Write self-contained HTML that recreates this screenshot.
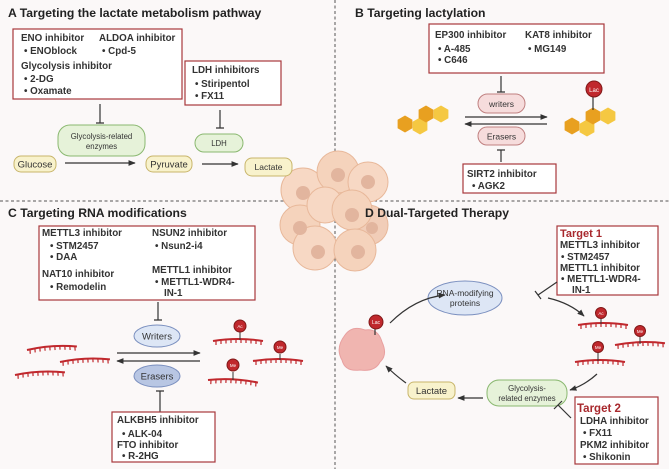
<!DOCTYPE html>
<html><head><meta charset="utf-8"><style>
html,body{margin:0;padding:0;background:#fbf8f8;}
svg{display:block;font-family:"Liberation Sans",Arial,sans-serif;}
.t{font-weight:bold;font-size:12.2px;fill:#222;}
.b{font-weight:bold;font-size:9.8px;fill:#333;}
.s{font-size:7.8px;fill:#333;}
.m{font-size:9.5px;fill:#333;}
.box{fill:#fff;stroke:#a8383c;stroke-width:1.2;}
.ln{stroke:#333;stroke-width:1.2;fill:none;}
.rna{stroke:#c0282d;stroke-width:2;fill:none;}
.rt{stroke:#c0282d;stroke-width:1.2;}
.red{font-weight:bold;font-size:11px;fill:#a8282d;}
</style></head><body>
<svg width="669" height="469" viewBox="0 0 669 469">
<defs>
<marker id="ar" viewBox="0 0 10 10" refX="9" refY="5" markerWidth="6" markerHeight="6" orient="auto"><path d="M0,1 L10,5 L0,9 z" fill="#333"/></marker>
<g id="rna"><path class="rna" d="M0,0 Q25,-4 50,0"/><path class="rt" d="M3,0v4M8,-1v4M13,-1.5v4M18,-2v4M23,-2v4M28,-2v4M33,-2v4M38,-1.5v4M43,-1v4M48,0v4"/></g>
<polygon id="hx" points="0,-8.5 7.4,-4.25 7.4,4.25 0,8.5 -7.4,4.25 -7.4,-4.25"/>
</defs>
<rect width="669" height="469" fill="#fbf8f8"/>
<line x1="0" y1="201" x2="669" y2="201" stroke="#555" stroke-dasharray="3,2.5"/>
<line x1="335" y1="0" x2="335" y2="469" stroke="#555" stroke-dasharray="3,2.5"/>

<!-- cells -->
<g stroke="#e8b89a" stroke-width="1">
<circle cx="368" cy="225" r="20" fill="#f1cdb8"/>
<circle cx="303" cy="190" r="22" fill="#f7d8c4"/>
<circle cx="338" cy="172" r="21" fill="#f5d3bc"/>
<circle cx="368" cy="182" r="20" fill="#f7d8c4"/>
<circle cx="300" cy="225" r="20" fill="#f5d3bc"/>
<circle cx="325" cy="205" r="18" fill="#f7d8c4"/>
<circle cx="352" cy="210" r="20" fill="#f5d3bc"/>
<circle cx="315" cy="248" r="22" fill="#f7d8c4"/>
<circle cx="355" cy="250" r="21" fill="#f5d3bc"/>
</g>
<g fill="#e2b59e">
<circle cx="303" cy="193" r="7"/><circle cx="338" cy="175" r="7"/><circle cx="368" cy="182" r="7"/><circle cx="300" cy="228" r="7"/><circle cx="352" cy="215" r="7"/><circle cx="318" cy="252" r="7"/><circle cx="358" cy="252" r="7"/><circle cx="372" cy="228" r="6"/>
</g>

<!-- Panel A -->
<text x="8" y="17" class="t">A  Targeting the lactate metabolism pathway</text>
<rect x="13" y="29" width="169" height="70" class="box"/>
<text x="21" y="41" class="b">ENO inhibitor</text><text x="99" y="41" class="b">ALDOA inhibitor</text>
<text x="24" y="54" class="b">•  ENOblock</text><text x="102" y="54" class="b">•  Cpd-5</text>
<text x="21" y="69" class="b">Glycolysis inhibitor</text>
<text x="24" y="82" class="b">•  2-DG</text><text x="24" y="94" class="b">•  Oxamate</text>
<rect x="185" y="61" width="96" height="44" class="box"/>
<text x="192" y="73" class="b">LDH inhibitors</text>
<text x="195" y="87" class="b">•  Stiripentol</text><text x="195" y="99" class="b">•  FX11</text>
<path class="ln" d="M100,104V123M96,123H104M220,110V128M216,128H224"/>
<rect x="58" y="125" width="87" height="31" rx="12" fill="#e6f2d9" stroke="#8ab870"/>
<text x="101.5" y="139" class="s" text-anchor="middle">Glycolysis-related</text>
<text x="101.5" y="149" class="s" text-anchor="middle">enzymes</text>
<rect x="195" y="134" width="48" height="18" rx="9" fill="#e6f2d9" stroke="#8ab870"/>
<text x="219" y="146" class="s" text-anchor="middle">LDH</text>
<rect x="14" y="156" width="42" height="16" rx="7" fill="#f8f2cc" stroke="#c8b56a"/>
<text x="35" y="167.5" class="m" text-anchor="middle">Glucose</text>
<rect x="146" y="156" width="46" height="16" rx="7" fill="#f8f2cc" stroke="#c8b56a"/>
<text x="169" y="167.5" class="m" text-anchor="middle">Pyruvate</text>
<rect x="245" y="158" width="47" height="18" rx="7" fill="#f8f2cc" stroke="#c8b56a"/>
<text x="268.5" y="170" class="s" style="font-size:8.5px" text-anchor="middle">Lactate</text>
<path class="ln" d="M65,163H135" marker-end="url(#ar)"/>
<path class="ln" d="M202,164H238" marker-end="url(#ar)"/>

<!-- Panel B -->
<text x="355" y="17" class="t">B  Targeting lactylation</text>
<rect x="429" y="24" width="175" height="49" class="box"/>
<text x="435" y="38" class="b">EP300 inhibitor</text><text x="525" y="38" class="b">KAT8 inhibitor</text>
<text x="438" y="52" class="b">•  A-485</text><text x="438" y="63" class="b">•  C646</text>
<text x="528" y="52" class="b">•  MG149</text>
<path class="ln" d="M501,76V92M497,92H505"/>
<rect x="478" y="94" width="47" height="19" rx="9.5" fill="#f6dcdc" stroke="#c08080"/>
<text x="501.5" y="107" class="s" style="font-size:8.5px" text-anchor="middle">writers</text>
<path class="ln" d="M465,117H547" marker-end="url(#ar)"/>
<path class="ln" d="M547,124H465" marker-end="url(#ar)"/>
<rect x="478" y="127" width="47" height="18" rx="9" fill="#f6dcdc" stroke="#c08080"/>
<text x="501.5" y="139.5" class="s" style="font-size:8.5px" text-anchor="middle">Erasers</text>
<path class="ln" d="M501,150V162M497,150H505"/>
<rect x="463" y="164" width="93" height="29" class="box"/>
<text x="467" y="177" class="b">SIRT2 inhibitor</text><text x="472" y="189" class="b">•  AGK2</text>
<g id="hexg">
<use href="#hx" x="405" y="124" fill="#e8a020"/>
<use href="#hx" x="420" y="126" fill="#f5c842"/>
<use href="#hx" x="426" y="114" fill="#e8a020"/>
<use href="#hx" x="441" y="114" fill="#f5c842"/>
</g>
<use href="#hexg" transform="translate(167,2)"/>
<line x1="593" y1="96" x2="593" y2="110" stroke="#333" stroke-width="1.2"/>
<circle cx="594" cy="89" r="8" fill="#c0282d" stroke="#801818"/>
<text x="594" y="92" font-size="6" fill="#fff" text-anchor="middle">Lac</text>

<!-- Panel C -->
<text x="8" y="217" class="t">C  Targeting RNA modifications</text>
<rect x="39" y="226" width="216" height="74" class="box"/>
<text x="42" y="236" class="b">METTL3 inhibitor</text><text x="152" y="236" class="b">NSUN2 inhibitor</text>
<text x="50" y="249" class="b">•  STM2457</text><text x="50" y="260" class="b">•  DAA</text>
<text x="155" y="249" class="b">•  Nsun2-i4</text>
<text x="42" y="277" class="b">NAT10 inhibitor</text><text x="50" y="290" class="b">•  Remodelin</text>
<text x="152" y="273" class="b">METTL1 inhibitor</text>
<text x="155" y="285" class="b">•  METTL1-WDR4-</text><text x="164" y="296" class="b">IN-1</text>
<path class="ln" d="M158,302V320M154,320H162"/>
<ellipse cx="157" cy="336" rx="23" ry="11" fill="#dde6f5" stroke="#7a8fbf"/>
<text x="157" y="339.5" class="m" text-anchor="middle">Writers</text>
<path class="ln" d="M117,353H200" marker-end="url(#ar)"/>
<path class="ln" d="M200,361H117" marker-end="url(#ar)"/>
<ellipse cx="157" cy="376" rx="23" ry="11" fill="#b8c6e3" stroke="#7a8fbf"/>
<text x="157" y="379.5" class="m" text-anchor="middle">Erasers</text>
<path class="ln" d="M160,391V412M156,391H164"/>
<rect x="112" y="412" width="103" height="50" class="box"/>
<text x="117" y="423" class="b">ALKBH5 inhibitor</text><text x="122" y="437" class="b">•  ALK-04</text>
<text x="117" y="448" class="b">FTO inhibitor</text><text x="122" y="459" class="b">•  R-2HG</text>
<use href="#rna" transform="translate(27,350) rotate(-4)"/>
<use href="#rna" transform="translate(60,362) rotate(-3)"/>
<use href="#rna" transform="translate(15,375) rotate(-3)"/>
<use href="#rna" transform="translate(213,341)"/>
<use href="#rna" transform="translate(253,361)"/>
<use href="#rna" transform="translate(208,380) rotate(3)"/>
<g stroke="#333" stroke-width="1"><line x1="240" y1="332" x2="240" y2="340"/><line x1="280" y1="354" x2="280" y2="360"/><line x1="233" y1="372" x2="233" y2="380"/></g>
<g fill="#c0282d" stroke="#801818"><circle cx="240" cy="326" r="6"/><circle cx="280" cy="347" r="6"/><circle cx="233" cy="365" r="6"/></g>
<g font-size="4.5" fill="#fff" text-anchor="middle"><text x="240" y="328">Ac</text><text x="280" y="349">Me</text><text x="233" y="367">Me</text></g>

<!-- Panel D -->
<text x="365" y="217" class="t">D  Dual-Targeted Therapy</text>
<rect x="557" y="226" width="101" height="69" class="box"/>
<text x="560" y="237" class="red">Target 1</text>
<text x="560" y="248" class="b">METTL3 inhibitor</text><text x="561" y="260" class="b">•  STM2457</text>
<text x="560" y="271" class="b">METTL1 inhibitor</text><text x="561" y="282" class="b">•  METTL1-WDR4-</text><text x="572" y="293" class="b">IN-1</text>
<path class="ln" d="M557,282L538,295M535,291L541,299"/>
<ellipse cx="465" cy="298" rx="37" ry="17" fill="#dde6f5" stroke="#7a8fbf"/>
<text x="465" y="296" class="s" style="font-size:8.5px" text-anchor="middle">RNA-modifying</text>
<text x="465" y="306" class="s" style="font-size:8.5px" text-anchor="middle">proteins</text>
<path class="ln" d="M390,323Q415,298 445,295" marker-end="url(#ar)"/>
<path class="ln" d="M548,298Q570,303 584,316" marker-end="url(#ar)"/>
<use href="#rna" transform="translate(578,325)"/>
<use href="#rna" transform="translate(615,345) rotate(-2)"/>
<use href="#rna" transform="translate(575,362)"/>
<g stroke="#333" stroke-width="1"><line x1="601" y1="317" x2="601" y2="324"/><line x1="640" y1="336" x2="640" y2="344"/><line x1="598" y1="352" x2="598" y2="361"/></g>
<g fill="#c0282d" stroke="#801818"><circle cx="601" cy="313" r="5.5"/><circle cx="640" cy="331" r="5.5"/><circle cx="598" cy="347" r="5.5"/></g>
<g font-size="4.5" fill="#fff" text-anchor="middle"><text x="601" y="315">Ac</text><text x="640" y="333">Me</text><text x="598" y="349">Me</text></g>
<path class="ln" d="M597,374Q585,385 570,390" marker-end="url(#ar)"/>
<rect x="487" y="380" width="80" height="26" rx="12" fill="#e6f2d9" stroke="#8ab870"/>
<text x="527" y="391" class="s" text-anchor="middle">Glycolysis-</text>
<text x="527" y="401" class="s" text-anchor="middle">related enzymes</text>
<path class="ln" d="M483,398H458" marker-end="url(#ar)"/>
<rect x="408" y="382" width="47" height="17" rx="6" fill="#f8f2cc" stroke="#c8b56a"/>
<text x="431.5" y="394" class="m" text-anchor="middle">Lactate</text>
<path class="ln" d="M406,383Q395,375 386,366" marker-end="url(#ar)"/>
<path d="M345,335 Q352,325 365,330 Q378,328 382,342 Q388,355 380,362 Q375,372 360,370 Q345,372 342,360 Q335,348 345,335z" fill="#f0b5b0" stroke="#e8a0a0"/>
<line x1="375" y1="328" x2="375" y2="335" stroke="#333" stroke-width="1.2"/>
<circle cx="376" cy="322" r="7" fill="#c0282d" stroke="#801818"/>
<text x="376" y="324" font-size="5" fill="#fff" text-anchor="middle">Lac</text>
<rect x="575" y="397" width="83" height="67" class="box"/>
<text x="577" y="412" class="red" style="font-size:11.5px">Target 2</text>
<text x="580" y="424" class="b">LDHA inhibitor</text><text x="583" y="436" class="b">•  FX11</text>
<text x="580" y="448" class="b">PKM2 inhibitor</text><text x="583" y="460" class="b">•  Shikonin</text>
<path class="ln" d="M571,418L558,405M554,409L562,401"/>
</svg>
</body></html>
